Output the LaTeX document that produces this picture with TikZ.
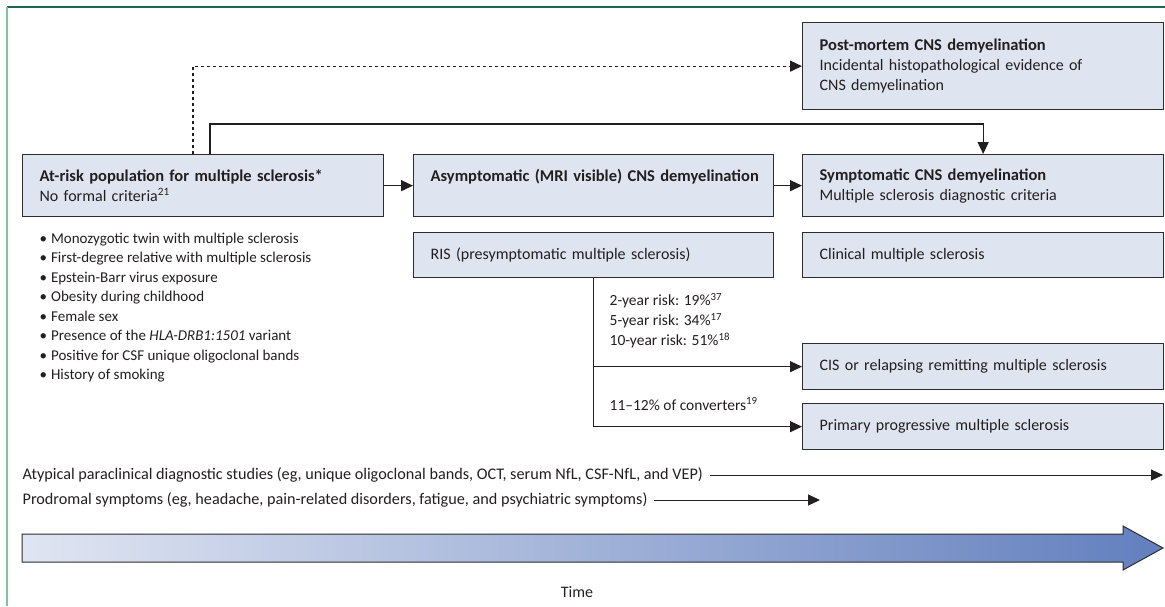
\documentclass[tikz,border=0pt]{standalone}
\usepackage{fontspec}
\setmainfont{Carlito}
\usetikzlibrary{arrows.meta,positioning}

\definecolor{boxfill}{RGB}{222,228,240}
\definecolor{boxline}{RGB}{45,45,45}
\definecolor{inkc}{RGB}{35,31,32}
\definecolor{frametop}{RGB}{28,105,72}
\definecolor{frameleft}{RGB}{125,195,160}
\definecolor{timeleft}{RGB}{224,229,242}
\definecolor{timeright}{RGB}{98,127,190}
\newcommand{\headline}[1]{\mbox{\fontsize{16.5}{20}\selectfont\bfseries #1}}
\newcommand{\factor}{\textbullet\hspace{4pt}}
\tikzset{every path/.style={line width=1.3pt}}
\tikzset{
  stage/.style={draw=boxline, fill=boxfill, anchor=north west, align=left,
    inner xsep=17pt, inner ysep=0pt, text=inkc, font=\fontsize{16}{20}\selectfont},
  flow/.style={draw=inkc, -{Triangle[length=12pt,width=11pt]}},
  note/.style={inner sep=0pt, align=left, text=inkc, font=\fontsize{15}{19.5}\selectfont}
}

\begin{document}
\begin{tikzpicture}[x=1pt,y=-1pt]
\useasboundingbox (0,0) rectangle (1165,606);
\draw[frametop, line width=2pt] (7,7) -- (1165,7);
\draw[frameleft, line width=2pt] (7,7) -- (7,606);

% stages
\node[stage, text width=327pt, minimum height=62pt] (atrisk) at (22,154)
  {\headline{At-risk population for multiple sclerosis*}\\No formal criteria\textsuperscript{21}};
\node[stage, text width=326pt, minimum height=62pt] (asym) at (413,154)
  {\headline{Asymptomatic (MRI visible) CNS demyelination}\\\mbox{}};
\node[stage, text width=327pt, minimum height=62pt] (symp) at (802,154)
  {\headline{Symptomatic CNS demyelination}\\Multiple sclerosis diagnostic criteria};
\node[stage, text width=327pt, minimum height=87pt] (postm) at (802,22)
  {\headline{Post-mortem CNS demyelination}\\Incidental histopathological evidence of\\CNS demyelination};
\node[stage, text width=326pt, minimum height=45pt] (ris) at (413,232)
  {RIS (presymptomatic multiple sclerosis)};
\node[stage, text width=327pt, minimum height=45pt] (clin) at (802,232)
  {Clinical multiple sclerosis};
\node[stage, text width=327pt, minimum height=46pt] (cis) at (802,343)
  {CIS or relapsing remitting multiple sclerosis};
\node[stage, text width=327pt, minimum height=46pt] (ppms) at (802,403)
  {Primary progressive multiple sclerosis};

% risk factors
\node[note, anchor=north west] (factors) at (39,232)
  {\factor Monozygotic twin with multiple sclerosis\\
   \factor First-degree relative with multiple sclerosis\\
   \factor Epstein-Barr virus exposure\\
   \factor Obesity during childhood\\
   \factor Female sex\\
   \factor Presence of the \textit{HLA-DRB1:1501} variant\\
   \factor Positive for CSF unique oligoclonal bands\\
   \factor History of smoking};

% conversion
\node[note, anchor=north west, font=\fontsize{15.5}{20}\selectfont] (risk) at (609,293)
  {2-year risk: 19\%\textsuperscript{37}\\
   5-year risk: 34\%\textsuperscript{17}\\
   10-year risk: 51\%\textsuperscript{18}};
\node[note, anchor=west, font=\fontsize{15.5}{20}\selectfont] (conv) at (609,404) {11–12\% of converters\textsuperscript{19}};

% connectors
\draw[flow, dashed] ([xshift=171pt]atrisk.north west) |- (postm.west);
\draw[flow] ([xshift=188pt]atrisk.north west) -- ++(0,-30) -| (symp.north);
\draw[flow] (atrisk) -- (asym);
\draw[flow] (asym) -- (symp);
\draw[flow] (ris.south) |- (ppms.west);
\draw[flow] (ris.south |- cis.west) -- (cis.west);

% timeline
\node[note, anchor=west, font=\fontsize{16.2}{20}\selectfont] (para) at (22,475)
  {Atypical paraclinical diagnostic studies (eg, unique oligoclonal bands, OCT, serum NfL, CSF-NfL, and VEP)};
\node[note, anchor=west, font=\fontsize{16.2}{20}\selectfont] (prod) at (22,500)
  {Prodromal symptoms (eg, headache, pain-related disorders, fatigue, and psychiatric symptoms)};
\coordinate (paraend) at (1163,475);
\coordinate (prodend) at (820,500);
\draw[flow, line width=1pt] ([xshift=6pt]para.east) -- (paraend);
\draw[flow, line width=1pt] ([xshift=6pt]prod.east) -- (prodend);
\shadedraw[left color=timeleft, right color=timeright, draw=boxline, line width=1pt]
  (22,534) -- (1123,534) -- (1123,526) -- (1163,548) -- (1123,570) -- (1123,562) -- (22,562) -- cycle;
\node[note, font=\fontsize{16}{20}\selectfont] (time) at (577,592) {Time};
\end{tikzpicture}
\end{document}
